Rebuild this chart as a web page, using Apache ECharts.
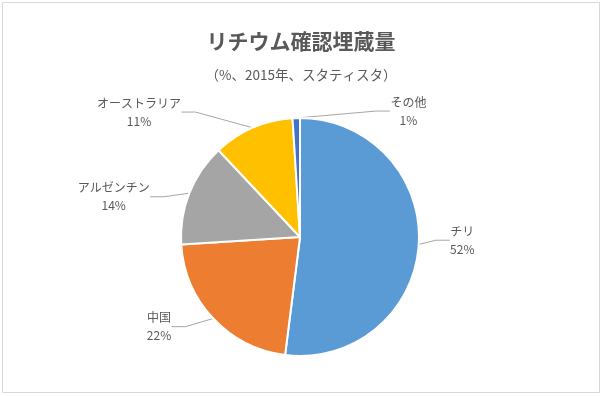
<!DOCTYPE html>
<html>
<head>
<meta charset="utf-8">
<script src="https://cdn.jsdelivr.net/npm/echarts@6/dist/echarts.min.js"></script>
<style>
  html, body { margin: 0; padding: 0; background: #fff; }
  #main { width: 602px; height: 397px; }
</style>
</head>
<body>
<div id="main"></div>
<script>
var countries = ["チリ", "中国", "アルゼンチン", "オーストラリア", "その他"];
var shares = [52, 22, 14, 11, 1];
var colors = ["#5B9BD5", "#ED7D31", "#A5A5A5", "#FFC000", "#4472C4"];

var labelFont = "12px Noto Sans CJK JP";

// width of the widest label line, so both lines can be centred like Excel does
function textWidth(str) {
  var ctx = document.createElement("canvas").getContext("2d");
  ctx.font = labelFont;
  return Math.ceil(ctx.measureText(str).width);
}

// label nudges (Excel placed some labels away from the default spot)
var labelShift = {
  0: [0, -5],
  1: [-14, 0],
  2: [-14, 8],
  3: [-12, -32],
  4: [150, 5],
};

var chartDom = document.getElementById("main");
var myChart = echarts.init(chartDom);

var pieData = countries.map(function (name, i) {
  var w = Math.max(textWidth(name), textWidth(shares[i] + "%"));
  return {
    name: name,
    value: shares[i],
    itemStyle: { color: colors[i] },
    label: { rich: { t: { width: w, align: "center" } } },
  };
});

var option = {
  animation: false,
  backgroundColor: "#fff",
  textStyle: { fontFamily: "Noto Sans CJK JP" },
  graphic: [
    {
      type: "rect",
      shape: { x: 2.5, y: 2.5, width: 597, height: 390 },
      style: { fill: "none", stroke: "#d9d9d9", lineWidth: 1 },
    },
  ],
  title: [
    {
      text: "リチウム確認埋蔵量",
      left: "center",
      top: 26,
      textStyle: { fontSize: 21, fontWeight: "bold", color: "#595959", fontFamily: "Noto Sans CJK JP" },
    },
    {
      text: "（%、2015年、スタティスタ）",
      left: "center",
      top: 63,
      textStyle: { fontSize: 13.5, fontWeight: "normal", color: "#595959", fontFamily: "Noto Sans CJK JP" },
    },
  ],
  series: [
    {
      type: "pie",
      center: [300, 237],
      radius: 119,
      startAngle: 90,
      clockwise: true,
      data: pieData,
      itemStyle: { borderColor: "#fff", borderWidth: 2 },
      label: {
        formatter: "{t|{b}}\n{t|{c}%}",
        fontSize: 12,
        lineHeight: 18,
        color: "#595959",
        fontFamily: "Noto Sans CJK JP",
        rich: {
          t: { fontSize: 12, lineHeight: 18, color: "#595959", fontFamily: "Noto Sans CJK JP" },
        },
      },
      labelLine: {
        length: 12,
        length2: 14,
        lineStyle: { color: "#a6a6a6", width: 1 },
      },
      labelLayout: function (params) {
        var s = labelShift[params.dataIndex];
        if (!s) return {};
        var r = params.labelRect;
        return {
          x: r.x + s[0],
          y: r.y + s[1],
          align: "left",
          verticalAlign: "top",
        };
      },
    },
  ],
};

myChart.setOption(option);
</script>
</body>
</html>
